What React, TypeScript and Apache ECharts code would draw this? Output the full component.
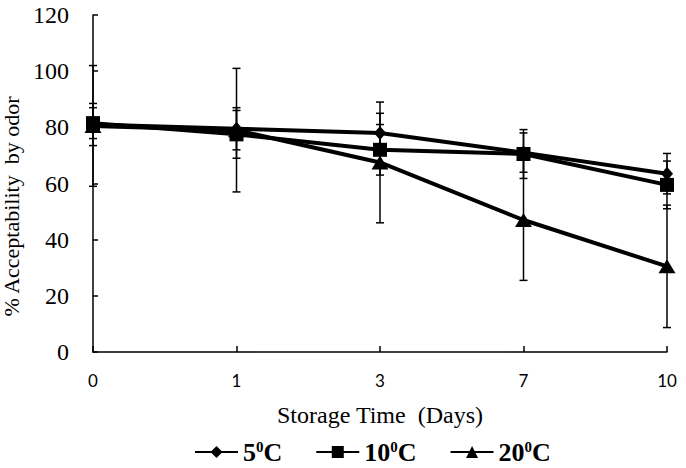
import React, { useEffect, useRef } from "react";
import * as echarts from "echarts";

const days = ["0", "1", "3", "7", "10"];
const seriesNames = ["5{s|0}C", "10{s|0}C", "20{s|0}C"];
const legendKeys = ["5C", "10C", "20C"];
const mean5 = [81, 79.5, 78, 71, 63.5];
const mean10 = [81.5, 77.5, 72, 70.5, 59.5];
const mean20 = [80.5, 79, 67.5, 47, 30.5];
const err5 = [7.5, 7.5, 7, 7, 7.2];
const err10 = [5.5, 8.5, 9, 8.7, 8.5];
const err20 = [21.5, 22, 21.5, 21.5, 21.8];
const symbols = ["diamond", "rect", "triangle"];
const symbolSizes: any[] = [[12, 14], 14, [17, 14]];
const yTicks = { min: 0, max: 120, interval: 20 };

const means = [mean5, mean10, mean20];
const errs = [err5, err10, err20];

export default function App() {
  const ref = useRef<HTMLDivElement>(null);
  useEffect(() => {
    const chart = echarts.init(ref.current!, null, { renderer: "svg" });
    const serif = "Liberation Serif";
    const lineSeries = means.map((m, i) => ({
      name: legendKeys[i],
      type: "line",
      data: m,
      symbol: symbols[i],
      symbolSize: symbolSizes[i],
      lineStyle: { color: "#000", width: 4 },
      itemStyle: { color: "#000", borderWidth: 0 },
      z: 3,
    }));
    const errSeries = errs.map((e, i) => ({
      type: "custom",
      name: "err" + i,
      z: 2,
      silent: true,
      data: e.map((v, k) => [k, means[i][k] - v, means[i][k] + v]),
      renderItem: (params: any, api: any) => {
        const x = api.value(0);
        const lo = api.coord([x, api.value(1)]);
        const hi = api.coord([x, api.value(2)]);
        const w = 4;
        const style = { stroke: "#000", lineWidth: 1.5 };
        return {
          type: "group",
          children: [
            { type: "line", shape: { x1: lo[0], y1: lo[1], x2: hi[0], y2: hi[1] }, style },
            { type: "line", shape: { x1: lo[0] - w, y1: lo[1], x2: lo[0] + w, y2: lo[1] }, style },
            { type: "line", shape: { x1: hi[0] - w, y1: hi[1], x2: hi[0] + w, y2: hi[1] }, style },
          ],
        };
      },
    }));
    chart.setOption({
      animation: false,
      backgroundColor: "#fff",
      textStyle: { fontFamily: serif },
      grid: { left: 93, right: 19, top: 15, bottom: 116, outerBoundsMode: "none", containLabel: false },
      legend: {
        data: legendKeys,
        left: 189,
        top: 434,
        itemWidth: 43,
        itemHeight: 15,
        itemGap: 33,
        formatter: (name: string) => seriesNames[legendKeys.indexOf(name)],
        textStyle: {
          fontFamily: serif,
          fontWeight: "bold",
          fontSize: 26,
          color: "#000",
          rich: {
            s: { fontFamily: serif, fontWeight: "bold", fontSize: 15, color: "#000", padding: [0, 0, 11, 0] },
          },
        },
      },
      xAxis: {
        type: "category",
        data: days,
        boundaryGap: false,
        name: "Storage Time  (Days)",
        nameLocation: "middle",
        nameGap: 51,
        nameTextStyle: { fontFamily: serif, fontSize: 24, color: "#000" },
        axisLine: { lineStyle: { color: "#000", width: 1.5 } },
        axisTick: { inside: true, length: 6, lineStyle: { color: "#000", width: 1.5 } },
        axisLabel: { fontFamily: "Lato", fontSize: 17, color: "#000", margin: 20 },
        splitLine: { show: false },
      },
      yAxis: {
        type: "value",
        min: yTicks.min,
        max: yTicks.max,
        interval: yTicks.interval,
        name: "% Acceptability  by odor",
        nameLocation: "middle",
        nameGap: 67,
        nameTextStyle: { fontFamily: serif, fontSize: 22, color: "#000", padding: [0, 46, 0, 0] },
        axisLine: { show: true, lineStyle: { color: "#000", width: 1.5 } },
        axisTick: { show: true, inside: true, length: 5, lineStyle: { color: "#000", width: 1.5 } },
        axisLabel: { fontFamily: serif, fontSize: 24, color: "#000", margin: 24 },
        splitLine: { show: false },
      },
      series: [...errSeries, ...lineSeries],
    });
    return () => chart.dispose();
  }, []);
  return (
    <div
      ref={ref}
      style={{ position: "absolute", left: 0, top: 0, width: 686, height: 468, background: "#fff" }}
    />
  );
}
